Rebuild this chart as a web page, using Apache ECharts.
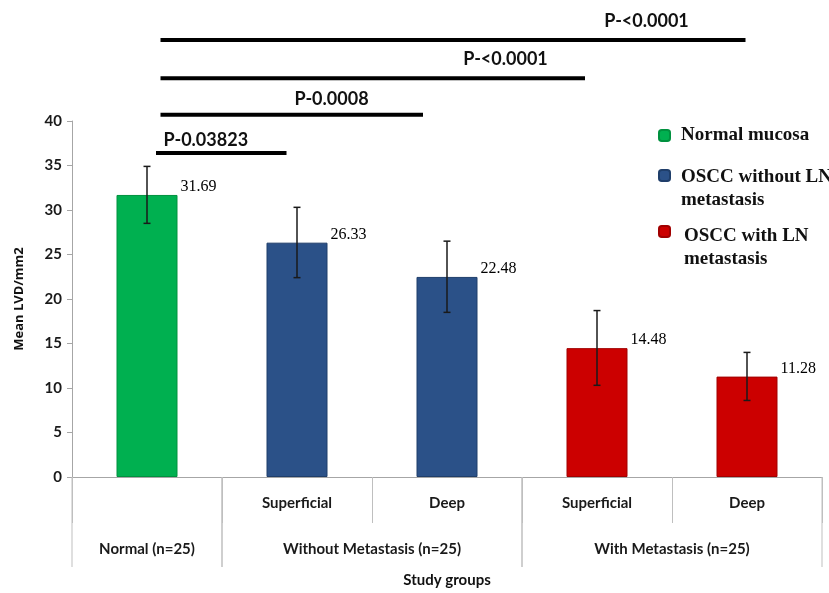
<!DOCTYPE html>
<html><head><meta charset="utf-8">
<script src="https://cdn.jsdelivr.net/npm/echarts@6/dist/echarts.min.js"></script>
<style>html,body{margin:0;padding:0;background:#fff}#c{width:829px;height:593px}</style>
</head><body><div id="c"></div>
<script>
// ---- data ----
const subLabels = ['', 'Superficial', 'Deep', 'Superficial', 'Deep'];
const groupLabels = ['Normal (n=25)', 'Without Metastasis (n=25)', 'With Metastasis (n=25)'];
const groupFirst = [0, 1, 3];
const groupLast = [0, 2, 4];
const seriesNames = ['Normal mucosa', 'OSCC without LN metastasis', 'OSCC with LN metastasis'];
const normalValues = [31.69, null, null, null, null];
const withoutValues = [null, 26.33, 22.48, null, null];
const withValues = [null, null, null, 14.48, 11.28];
const errLow = [28.5, 22.4, 18.5, 10.3, 8.6];
const errHigh = [34.9, 30.3, 26.5, 18.7, 14.0];
const pLabels = ['P-0.03823', 'P-0.0008', 'P-<0.0001', 'P-<0.0001'];
const yTicks = [0, 5, 10, 15, 20, 25, 30, 35, 40];

// ---- annotation layout (category units / y-units) ----
const bracketLayout = {
  start: [0.06, 0.09, 0.09, 0.09],
  end: [0.93, 1.84, 2.92, 3.99],
  level: [36.4, 40.7, 44.8, 49.1],
  textX: [0.11, 1.23, 2.39, 3.33],
  textY: [37.8, 42.5, 46.9, 51.2]
};

const colors = ['#00B050', '#2B5188', '#CC0000'];
const borders = ['#00913f', '#1f3e6a', '#a10000'];
const valueSets = [normalValues, withoutValues, withValues];

const chart = echarts.init(document.getElementById('c'), null, {renderer: 'canvas'});

const barSeries = valueSets.map((vals, k) => ({
  name: seriesNames[k],
  type: 'bar',
  xAxisIndex: 0, yAxisIndex: 0,
  data: vals,
  barWidth: 61,
  barGap: '-100%',
  itemStyle: {color: colors[k], borderColor: borders[k], borderWidth: 1},
  label: {
    show: true,
    position: ['100%', 0],
    offset: [3, -8],
    align: 'left', verticalAlign: 'middle',
    formatter: p => p.value == null ? '' : p.value.toFixed(2),
    fontFamily: 'Liberation Serif', fontSize: 16, color: '#000'
  },
  z: 2
}));

const legendFmt = [
  '{t|Normal mucosa}',
  '{p1| }\n{t|OSCC without LN}\n{t|metastasis}',
  '{p2| }\n{u|OSCC with LN}\n{u|metastasis}'
];
const legendTops = [126, 152, 208];
const txt = {fontFamily: 'Liberation Serif', fontWeight: 'bold', fontSize: 19, color: '#111', lineHeight: 23};
const legends = seriesNames.map((n, k) => ({
  data: [n],
  left: 658, top: legendTops[k],
  padding: 0,
  icon: 'roundRect',
  itemWidth: 11, itemHeight: 11,
  selectedMode: false,
  formatter: () => legendFmt[k],
  textStyle: {
    rich: {
      t: Object.assign({padding: [0, 0, 0, 6]}, txt),
      u: Object.assign({padding: [0, 0, 0, 9]}, txt),
      p1: {fontSize: 1, lineHeight: 27},
      p2: {fontSize: 1, lineHeight: 33}
    }
  }
}));

const option = {
  animation: false,
  backgroundColor: '#fff',
  legend: legends,
  grid: {left: 72, right: 7, top: 121, bottom: 111, containLabel: false},
  xAxis: [{
    type: 'category',
    data: subLabels,
    boundaryGap: true,
    axisLine: {show: true, lineStyle: {color: '#a6a6a6', width: 1}},
    axisTick: {show: true, interval: 0, length: 46, lineStyle: {color: '#bfbfbf'}},
    axisLabel: {
      interval: 0, margin: 19,
      fontFamily: 'Lato', fontWeight: 'bold', fontSize: 15, color: '#1a1a1a'
    },
    name: 'Study groups',
    nameLocation: 'middle',
    nameGap: 96,
    nameTextStyle: {fontFamily: 'Lato', fontWeight: 'bold', fontSize: 15, color: '#111'}
  }, {
    type: 'value', min: -0.5, max: 4.5, show: false
  }],
  yAxis: [{
    type: 'value', min: 0, max: 40, interval: 5,
    axisLine: {show: true, onZero: false, lineStyle: {color: '#a6a6a6'}},
    axisTick: {show: true, length: 5, lineStyle: {color: '#a6a6a6'}},
    splitLine: {show: false},
    axisLabel: {
      margin: 10, fontFamily: 'Lato', fontWeight: 'bold', fontSize: 15, color: '#1a1a1a',
      formatter: v => yTicks.includes(v) ? String(v) : ''
    },
    name: 'Mean LVD/mm2',
    nameLocation: 'middle',
    nameGap: 46,
    nameTextStyle: {fontFamily: 'Open Sans', fontWeight: 'bold', fontSize: 13, color: '#111'}
  }],
  series: [
    ...barSeries,
    {
      name: 'error', type: 'custom', xAxisIndex: 0, yAxisIndex: 0, z: 5,
      data: errLow.map((l, i) => [i, l, errHigh[i]]),
      renderItem: (params, api) => {
        const lo = api.coord([api.value(0), api.value(1)]);
        const hi = api.coord([api.value(0), api.value(2)]);
        const st = {stroke: '#1a1a1a', lineWidth: 1.5};
        const c = 3.5;
        return {type: 'group', children: [
          {type: 'line', shape: {x1: lo[0], y1: lo[1], x2: hi[0], y2: hi[1]}, style: st},
          {type: 'line', shape: {x1: hi[0]-c, y1: hi[1], x2: hi[0]+c, y2: hi[1]}, style: st},
          {type: 'line', shape: {x1: lo[0]-c, y1: lo[1], x2: lo[0]+c, y2: lo[1]}, style: st}
        ]};
      }
    },
    {
      name: 'brackets', type: 'custom', xAxisIndex: 1, yAxisIndex: 0, z: 5, clip: false,
      silent: true,
      data: pLabels.map((p, i) => [bracketLayout.start[i], bracketLayout.end[i], bracketLayout.level[i], bracketLayout.textX[i], bracketLayout.textY[i], i]),
      renderItem: (params, api) => {
        const a = api.coord([api.value(0), api.value(2)]);
        const b = api.coord([api.value(1), api.value(2)]);
        const t = api.coord([api.value(3), api.value(4)]);
        const i = api.value(5);
        return {type: 'group', children: [
          {type: 'line', shape: {x1: a[0], y1: a[1], x2: b[0], y2: b[1]}, style: {stroke: '#000', lineWidth: 4}},
          {type: 'text', x: t[0], y: t[1], style: {text: pLabels[i], font: 'bold 18px Lato', fill: '#111', align: i === 0 ? 'left' : 'center', verticalAlign: 'middle'}}
        ]};
      }
    },
    {
      name: 'groups', type: 'custom', xAxisIndex: 1, yAxisIndex: 0, z: 5, clip: false,
      silent: true,
      data: groupLabels.map((g, i) => [groupFirst[i] - 0.5, groupLast[i] + 0.5, i]),
      renderItem: (params, api) => {
        const a = api.coord([api.value(0), 0]);
        const b = api.coord([api.value(1), 0]);
        const i = api.value(2);
        const st = {stroke: '#bfbfbf', lineWidth: 1};
        return {type: 'group', children: [
          {type: 'line', shape: {x1: a[0], y1: a[1], x2: a[0], y2: a[1] + 90}, style: st},
          {type: 'line', shape: {x1: b[0], y1: b[1], x2: b[0], y2: b[1] + 90}, style: st},
          {type: 'text', x: (a[0] + b[0]) / 2, y: a[1] + 72, style: {text: groupLabels[i], font: 'bold 15px Lato', fill: '#1a1a1a', align: 'center', verticalAlign: 'middle'}}
        ]};
      }
    }
  ]
};
chart.setOption(option);
</script>
</body></html>
